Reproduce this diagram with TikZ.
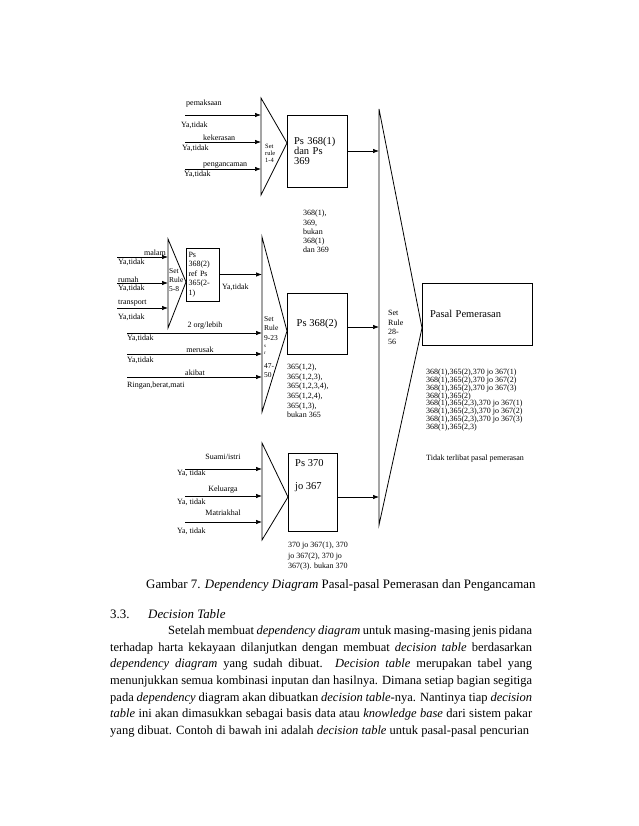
\documentclass[tikz,border=0pt]{standalone}
\usepackage{fontspec}
\setmainfont{Liberation Serif}
\usetikzlibrary{arrows.meta}

\tikzset{
  lbl/.style={inner sep=0pt, anchor=west, font=\fontsize{8}{9}\selectfont},
  rule/.style={inner sep=0pt, anchor=north west, align=left, font=\fontsize{7}{8}\selectfont},
  list/.style={inner sep=0pt, anchor=north west, align=left, font=\fontsize{8}{9.5}\selectfont},
  box/.style={shape=rectangle, draw=black, line width=0.8pt, inner sep=0pt, align=left},
  arr/.style={-{Latex[length=6pt,width=4.5pt]}, line width=0.7pt},
  tri/.style={draw=black, line width=0.8pt},
}
\newcommand{\fullline}[1]{\hbox to 422pt{#1}}

\begin{document}
\begin{tikzpicture}[x=1pt,y=-1pt]
\useasboundingbox (0,0) rectangle (638,826);

% boxes
\node[box, minimum width=60, minimum height=72, text width=46, font=\fontsize{10.5}{10}\selectfont] (A) at (317,151) {Ps 368(1)\\dan Ps\\369};
\node[box, minimum width=33, minimum height=53, text width=28, font=\fontsize{8}{9.5}\selectfont] (S) at (202.5,274.5) {Ps\\368(2)\\ref Ps\\365(2-\\1)};
\node[box, minimum width=60, minimum height=61, align=center, font=\fontsize{10.5}{12}\selectfont] (B) at (317,323.5) {Ps 368(2)};
\node[box, minimum width=49, minimum height=78] (C) at (312.5,492) {};
\node[box, minimum width=110, minimum height=62, text width=94, font=\fontsize{10.5}{12}\selectfont] (D) at (477,314) {Pasal Pemerasan};
\node[inner sep=0pt, anchor=west, font=\fontsize{10.5}{12}\selectfont] (C1) at (295,463) {Ps 370};
\node[inner sep=0pt, anchor=west, font=\fontsize{10.5}{12}\selectfont] (C2) at (295,487) {jo 367};

% triangles
\draw[tri] (261,98) -- (287,143) -- (261,195) -- cycle;
\draw[tri] (168,239) -- (186,282) -- (168,328) -- cycle;
\draw[tri] (262,237) -- (287,331) -- (262,412) -- cycle;
\draw[tri] (262,443) -- (288,497) -- (262,540) -- cycle;
\draw[tri] (379,109) -- (422,328) -- (379,525) -- cycle;

% rule texts
\node[rule, font=\fontsize{6.5}{7.3}\selectfont] (R1) at (265,143.5) {Set\\rule\\1-4};
\node[rule, font=\fontsize{7.5}{9}\selectfont] (R2) at (169,268) {Set\\Rule\\5-8};
\node[rule, font=\fontsize{7.5}{9.6}\selectfont] (R3) at (264,316) {Set\\Rule\\9-23};
\node[rule, font=\fontsize{5}{6}\selectfont] (R3s) at (264,345) {s};
\node[rule, font=\fontsize{5}{6}\selectfont] (R3r) at (264,351.5) {r};
\node[rule, font=\fontsize{7.5}{9.5}\selectfont] (R3b) at (264,363) {47-\\50};
\node[rule, font=\fontsize{8}{9.7}\selectfont] (R4) at (388,310) {Set\\Rule\\28-\\56};

% input points
\coordinate (a1) at (185,115); \coordinate (e1) at (261,115);
\coordinate (a2) at (185,142); \coordinate (e2) at (261,142);
\coordinate (a3) at (185,169); \coordinate (e3) at (261,169);
\coordinate (b1) at (117,257); \coordinate (f1) at (168,257);
\coordinate (b2) at (117,283); \coordinate (f2) at (168,283);
\coordinate (b3) at (117,308); \coordinate (f3) at (168,308);
\coordinate (c1) at (127,333); \coordinate (g1) at (262,333);
\coordinate (c2) at (127,354); \coordinate (g2) at (262,354);
\coordinate (c3) at (127,377); \coordinate (g3) at (262,377);
\coordinate (g0) at (262,274.5);
\coordinate (d1) at (185,469); \coordinate (h1) at (262,469);
\coordinate (d2) at (185,496); \coordinate (h2) at (262,496);
\coordinate (d3) at (185,522); \coordinate (h3) at (262,522);
\coordinate (P1) at (379,151);
\coordinate (P2) at (379,327);
\coordinate (P3) at (379,497);

\draw[arr] (a1) -- (e1);
\draw[arr] (a2) -- (e2);
\draw[arr] (a3) -- (e3);
\draw[arr] (b1) -- (f1);
\draw[arr] (b2) -- (f2);
\draw[arr] (b3) -- (f3);
\draw[arr] (c1) -- (g1);
\draw[arr] (c2) -- (g2);
\draw[arr] (c3) -- (g3);
\draw[arr] (S) -- (g0);
\draw[arr] (d1) -- (h1);
\draw[arr] (d2) -- (h2);
\draw[arr] (d3) -- (h3);
\draw[arr] (A) -- (P1);
\draw[arr] (B.east |- P2) -- (P2);
\draw[arr] (C.east |- P3) -- (P3);

% input labels
\node[lbl] (L1) at (186,104) {pemaksaan};
\node[lbl] (L1y) at (181,125) {Ya,tidak};
\node[lbl] (L2) at (203,138) {kekerasan};
\node[lbl] (L2y) at (182,148) {Ya,tidak};
\node[lbl] (L3) at (203,165) {pengancaman};
\node[lbl] (L3y) at (184,174) {Ya,tidak};
\node[lbl, anchor=east] (M1) at (166,253) {malam};
\node[lbl] (M1y) at (118,262) {Ya,tidak};
\node[lbl] (M2) at (118,280) {rumah};
\node[lbl] (M2y) at (118,288) {Ya,tidak};
\node[lbl] (M3) at (118,303) {transport};
\node[lbl] (M3y) at (118,317) {Ya,tidak};
\node[lbl] (SY) at (222,287) {Ya,tidak};
\node[lbl, anchor=center] (N1) at (205,326) {2 org/lebih};
\node[lbl] (N1y) at (127,338) {Ya,tidak};
\node[lbl, anchor=center] (N2) at (200,350) {merusak};
\node[lbl] (N2y) at (127,360) {Ya,tidak};
\node[lbl, anchor=center] (N3) at (195,373) {akibat};
\node[lbl] (N3y) at (127,386) {Ringan,berat,mati};
\node[lbl, anchor=center] (K1) at (223,457) {Suami/istri};
\node[lbl] (K1y) at (177,473) {Ya, tidak};
\node[lbl, anchor=center] (K2) at (223,490) {Keluarga};
\node[lbl] (K2y) at (177,502) {Ya, tidak};
\node[lbl, anchor=center] (K3) at (223,513) {Matriakhal};
\node[lbl] (K3y) at (177,531) {Ya, tidak};

% result lists
\node[list, font=\fontsize{8}{9.3}\selectfont] (T1) at (303,210) {368(1),\\369,\\bukan\\368(1)\\dan 369};
\node[list, font=\fontsize{8}{9.6}\selectfont] (T2) at (287,364) {365(1,2),\\365(1,2,3),\\365(1,2,3,4),\\365(1,2,4),\\365(1,3),\\bukan 365};
\node[list, font=\fontsize{8}{10.5}\selectfont] (T3) at (288,542) {370 jo 367(1), 370\\jo 367(2), 370 jo\\367(3). bukan 370};
\node[list, font=\fontsize{8}{7.8}\selectfont] (T4) at (426,369) {368(1),365(2),370 jo 367(1)\\368(1),365(2),370 jo 367(2)\\368(1),365(2),370 jo 367(3)\\368(1),365(2)\\368(1),365(2,3),370 jo 367(1)\\368(1),365(2,3),370 jo 367(2)\\368(1),365(2,3),370 jo 367(3)\\368(1),365(2,3)};
\node[lbl] (T5) at (426,459) {Tidak terlibat pasal pemerasan};

% caption and text
\node[inner sep=0pt, anchor=west, font=\fontsize{12.9}{16}\selectfont] (cap) at (146,585) {Gambar 7. \textit{Dependency Diagram} Pasal-pasal Pemerasan dan Pengancaman};
\node[inner sep=0pt, anchor=west, font=\fontsize{12.9}{16}\selectfont] (h1) at (110,614) {3.3.};
\node[inner sep=0pt, anchor=west, font=\fontsize{12.9}{16}\selectfont] (h2) at (148,614) {\textit{Decision Table}};
\node[inner sep=0pt, anchor=north west, align=left, font=\fontsize{12.5}{16.7}\selectfont] (par) at (110,625.5) {%
\fullline{\hspace*{58pt}Setelah membuat \textit{dependency diagram} untuk masing-masing jenis pidana}\\
\fullline{terhadap harta kekayaan dilanjutkan dengan membuat \textit{decision table} berdasarkan}\\
\fullline{\textit{dependency diagram} yang sudah dibuat. \textit{Decision table} merupakan tabel yang}\\
\fullline{menunjukkan semua kombinasi inputan dan hasilnya. Dimana setiap bagian segitiga}\\
\fullline{pada \textit{dependency} diagram akan dibuatkan \textit{decision table}-nya. Nantinya tiap \textit{decision}}\\
\fullline{\textit{table} ini akan dimasukkan sebagai basis data atau \textit{knowledge base} dari sistem pakar}\\
yang dibuat. Contoh di bawah ini adalah \textit{decision table} untuk pasal-pasal pencurian};
\end{tikzpicture}
\end{document}
